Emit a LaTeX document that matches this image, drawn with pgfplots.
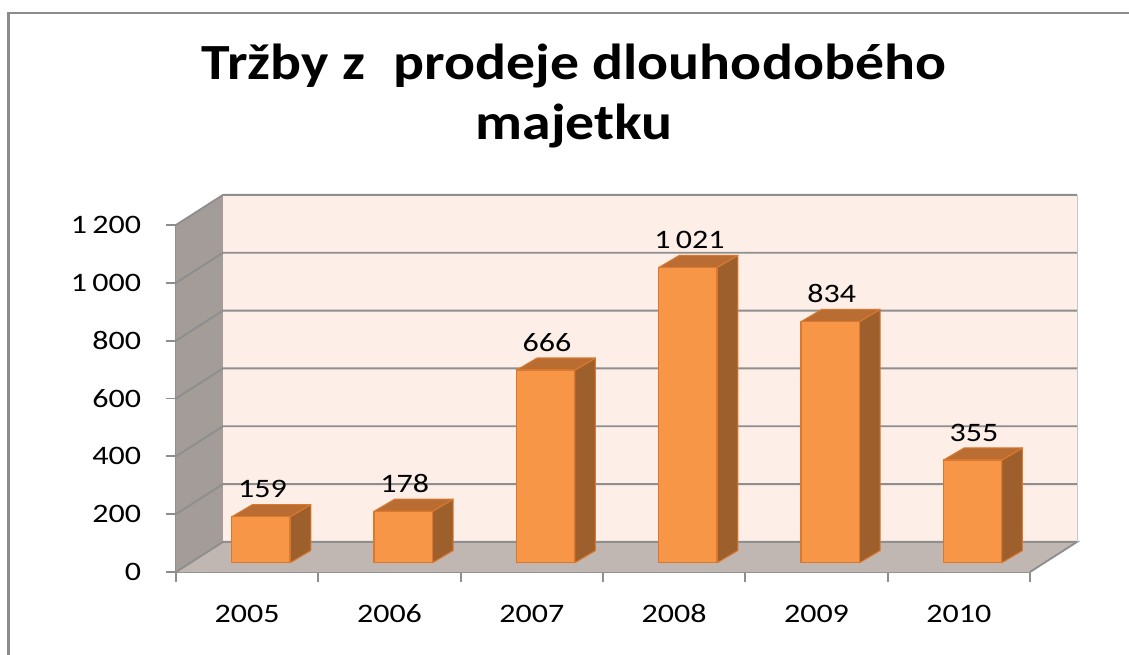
\documentclass[border=0pt]{standalone}
\usepackage{pgfplots}
\pgfplotsset{compat=1.18}
\usepackage{pgfplotstable}
\usepackage{fontspec}
\setmainfont{Carlito}
\definecolor{barfront}{HTML}{F79646}
\definecolor{barside}{HTML}{9D5F2C}
\definecolor{bartop}{HTML}{B96D33}
\definecolor{baredge}{HTML}{D9782E}
\definecolor{backwall}{HTML}{FDEEE7}
\definecolor{sidewall}{HTML}{A39C98}
\definecolor{floorc}{HTML}{C0B6B2}
\definecolor{gridc}{HTML}{8E8E8E}
\definecolor{framec}{HTML}{8C8C8C}
\pgfplotstableread{
i v
0 159
1 178
2 666
3 1021
4 834
5 355
}\datatable
\begin{document}
\begin{tikzpicture}
\begin{axis}[
  scale only axis,
  width=640.5pt, height=260.25pt,
  xmin=0, xmax=6, ymin=0, ymax=1200, clip=false,
  axis x line*=bottom, axis y line*=left,
  axis line style={gridc, line width=1.4pt},
  tick style={gridc, line width=1.4pt},
  tick align=outside,
  ytick={0,200,...,1200},
  xtick={0,1,...,6},
  xticklabels={2005,2006,2007,2008,2009,2010},
  x tick label as interval=true,
  major tick length=7.5pt,
  /pgf/number format/.cd, 1000 sep={\,}, assume math mode=true,
  /pgfplots/.cd,
  ticklabel style={font=\fontsize{20}{24}\selectfont, xscale=1.2},
  yticklabel style={xshift=-12pt},
  xticklabel style={anchor=base, yshift=-30pt},
]
\coordinate (O) at (axis cs:0,0);
% walls
\addplot[fill=sidewall, draw=none] coordinates {(0,0) (0.33,104) (0.33,1304) (0,1200)} -- cycle;
\addplot[fill=backwall, draw=none] coordinates {(0.33,104) (6.33,104) (6.33,1304) (0.33,1304)} -- cycle;
\addplot[fill=floorc, draw=none] coordinates {(0,0) (6,0) (6.33,104) (0.33,104)} -- cycle;
% grid lines
\addplot[gridc, line width=1.4pt] coordinates {(0,0) (0.33,104) (6.33,104) (6,0)};
\addplot[gridc, line width=1.4pt] coordinates {(0,200) (0.33,304) (6.33,304)};
\addplot[gridc, line width=1.4pt] coordinates {(0,400) (0.33,504) (6.33,504)};
\addplot[gridc, line width=1.4pt] coordinates {(0,600) (0.33,704) (6.33,704)};
\addplot[gridc, line width=1.4pt] coordinates {(0,800) (0.33,904) (6.33,904)};
\addplot[gridc, line width=1.4pt] coordinates {(0,1000) (0.33,1104) (6.33,1104)};
\addplot[gridc, line width=1.4pt] coordinates {(0,1200) (0.33,1304) (6.33,1304)};
\addplot[gridc!50, line width=0.6pt] coordinates {(6.33,104) (6.33,1304)};
% bars
\foreach \i/\v in {0/159,1/178,2/666,3/1021,4/834,5/355}{
  \pgfmathsetmacro\xl{\i+0.392}
  \pgfmathsetmacro\xr{\i+0.802}
  \pgfmathsetmacro\xrr{\i+0.947}
  \pgfmathsetmacro\xlr{\i+0.537}
  \pgfmathsetmacro\yt{\v+32}
  \pgfmathsetmacro\ytt{\v+74}
  \edef\temp{%
    \noexpand\addplot[fill=barside, draw=baredge, line width=0.8pt, line join=round] coordinates {(\xr,32) (\xrr,74) (\xrr,\ytt) (\xr,\yt)} -- cycle;
    \noexpand\addplot[fill=bartop, draw=baredge, line width=0.8pt, line join=round] coordinates {(\xl,\yt) (\xr,\yt) (\xrr,\ytt) (\xlr,\ytt)} -- cycle;
    \noexpand\addplot[fill=barfront, draw=baredge, line width=1pt, line join=round] coordinates {(\xl,32) (\xr,32) (\xr,\yt) (\xl,\yt)} -- cycle;
  }
  \temp
}
% value labels
\addplot[draw=none, mark=none, nodes near coords, point meta=\thisrow{v},
  every node near coord/.append style={anchor=base, inner sep=0pt, font=\fontsize{20}{24}\selectfont, xscale=1.2, text=black}]
  table[x expr=\thisrow{i}+0.607, y expr=\thisrow{v}+98] {\datatable};
\end{axis}
\pgfresetboundingbox
\begin{scope}[shift={(O)}, x=0.75pt, y=0.75pt, shift={(-176,-82)}]
\path[use as bounding box] (0,0) rectangle (1129,654);
\draw[framec, line width=1.9pt] (8.5,-20) -- (8.5,641) -- (1150,641);
\node[font=\bfseries\fontsize{38}{44}\selectfont, anchor=base, xscale=1.14, inner sep=0pt] at (574,574) {Tržby z\hspace{0.5em}prodeje dlouhodobého};
\node[font=\bfseries\fontsize{38}{44}\selectfont, anchor=base, xscale=1.14, inner sep=0pt] at (574,514) {majetku};
\end{scope}
\end{tikzpicture}
\end{document}
